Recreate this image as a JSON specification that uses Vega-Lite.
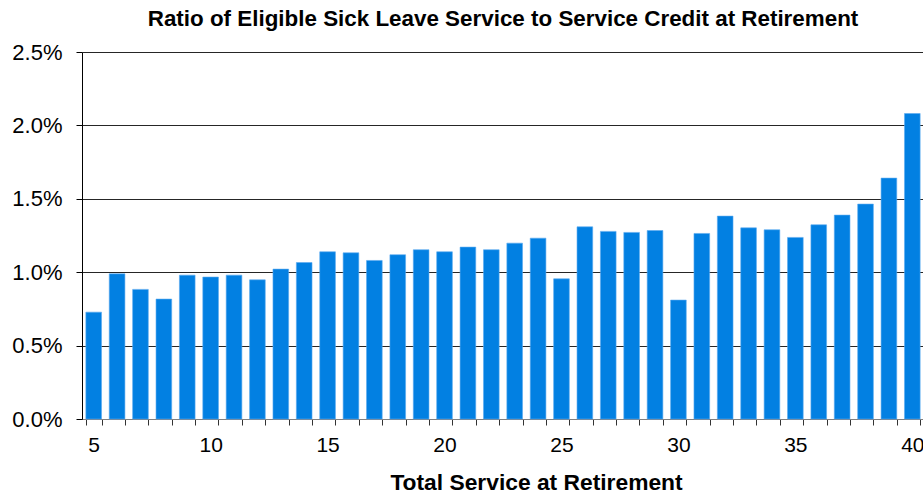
{
  "$schema": "https://vega.github.io/schema/vega-lite/v6.json",
  "width": 842,
  "height": 367,
  "autosize": "none",
  "padding": {"left": 82, "top": 52, "right": 0, "bottom": 75},
  "background": "white",
  "config": {"view": {"stroke": null}, "font": "Liberation Sans"},
  "title": {
    "text": "Ratio of Eligible Sick Leave Service to Service Credit at Retirement",
    "font": "Liberation Sans",
    "fontSize": 22.4,
    "fontWeight": "bold",
    "color": "#000000",
    "anchor": "middle",
    "offset": 11
  },
  "data": {
    "values": [
      {"service": 5, "ratio": 0.00728},
      {"service": 6, "ratio": 0.00989},
      {"service": 7, "ratio": 0.00883},
      {"service": 8, "ratio": 0.00817},
      {"service": 9, "ratio": 0.00980},
      {"service": 10, "ratio": 0.00967},
      {"service": 11, "ratio": 0.00980},
      {"service": 12, "ratio": 0.00948},
      {"service": 13, "ratio": 0.01021},
      {"service": 14, "ratio": 0.01066},
      {"service": 15, "ratio": 0.01139},
      {"service": 16, "ratio": 0.01132},
      {"service": 17, "ratio": 0.01080},
      {"service": 18, "ratio": 0.01119},
      {"service": 19, "ratio": 0.01153},
      {"service": 20, "ratio": 0.01139},
      {"service": 21, "ratio": 0.01171},
      {"service": 22, "ratio": 0.01153},
      {"service": 23, "ratio": 0.01198},
      {"service": 24, "ratio": 0.01232},
      {"service": 25, "ratio": 0.00955},
      {"service": 26, "ratio": 0.01309},
      {"service": 27, "ratio": 0.01278},
      {"service": 28, "ratio": 0.01271},
      {"service": 29, "ratio": 0.01284},
      {"service": 30, "ratio": 0.00810},
      {"service": 31, "ratio": 0.01264},
      {"service": 32, "ratio": 0.01382},
      {"service": 33, "ratio": 0.01302},
      {"service": 34, "ratio": 0.01289},
      {"service": 35, "ratio": 0.01237},
      {"service": 36, "ratio": 0.01323},
      {"service": 37, "ratio": 0.01389},
      {"service": 38, "ratio": 0.01464},
      {"service": 39, "ratio": 0.01641},
      {"service": 40, "ratio": 0.02081}
    ]
  },
  "mark": {"type": "bar", "color": "#0280E2", "stroke": "#5AAAF0", "strokeWidth": 0.6},
  "encoding": {
    "x": {
      "field": "service",
      "type": "ordinal",
      "scale": {"paddingInner": 0.33, "paddingOuter": 0.165},
      "axis": {
        "title": "Total Service at Retirement",
        "titleFont": "Liberation Sans",
        "titleFontSize": 22.8,
        "titleFontWeight": "bold",
        "titleColor": "#000000",
        "titlePadding": 16,
        "titleX": 454,
        "titleAnchor": "middle",
        "labelExpr": "datum.value % 5 == 0 ? datum.label : ''",
        "labelAngle": 0,
        "labelFont": "Liberation Sans",
        "labelFontSize": 21,
        "labelColor": "#000000",
        "labelPadding": 9,
        "tickBand": "extent",
        "tickSize": 6,
        "tickColor": "#333333",
        "domainColor": "#808080",
        "grid": false
      }
    },
    "y": {
      "field": "ratio",
      "type": "quantitative",
      "scale": {"domain": [0, 0.025], "nice": false},
      "axis": {
        "title": null,
        "format": ".1%",
        "values": [0, 0.005, 0.01, 0.015, 0.02, 0.025],
        "labelFont": "Liberation Sans",
        "labelFontSize": 22,
        "labelColor": "#000000",
        "labelPadding": 14,
        "tickSize": 6,
        "tickColor": "#000000",
        "domainColor": "#000000",
        "grid": true,
        "gridColor": "#000000",
        "gridOpacity": 0.85,
        "gridWidth": 1
      }
    }
  }
}
